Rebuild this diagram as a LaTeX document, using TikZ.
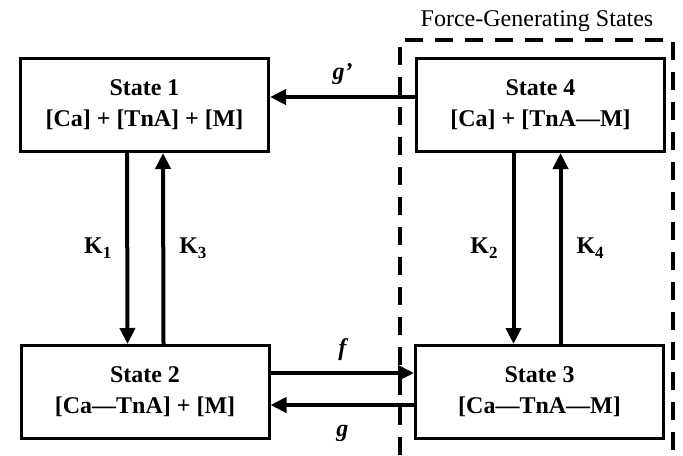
\documentclass[tikz,border=0pt]{standalone}
\usepackage{fontspec}
\setmainfont{Liberation Serif}
\usetikzlibrary{arrows.meta,positioning}
\newcommand\ksub[1]{K\raisebox{-.45ex}{\fontsize{8.5}{9}\selectfont#1}}

\begin{document}
\begin{tikzpicture}[x=.5pt,y=-.5pt,font=\fontsize{12}{15.5}\selectfont,
state/.style={draw,line width=1.5pt,align=center,minimum width=124pt,minimum height=46.5pt,font=\fontsize{12}{15.5}\selectfont\bfseries},
arr/.style={-{Triangle[length=8pt,width=7.5pt]},line width=2pt},
rate/.style={font=\fontsize{12}{15.5}\selectfont\bfseries,inner sep=0pt},
fgs/.style={dash pattern=on 9pt off 6pt,line width=1.75pt}]
\useasboundingbox (0,0) rectangle (683,455);

\node (title) at (537,21){Force-Generating States};
\draw[fgs] (400,455)--(400,40)--(673,40)--(673,455);

\node[state] (s1) at (144.5,105){State 1\\{}[Ca] + [TnA] + [M]};
\node[state] (s4) at (540.5,105){State 4\\{}[Ca] + [TnA—M]};
\node[state] (s2) at (145,392){State 2\\{}[Ca—TnA] + [M]};
\node[state] (s3) at (539.5,392){State 3\\{}[Ca—TnA—M]};

\draw[arr] ([yshift=4pt]s4.west)--node[rate,above=5pt]{\itshape g’}([yshift=4pt]s1.east);
\draw[arr] ([yshift=9.5pt]s2.east)--node[rate,above=5pt]{\itshape f}([yshift=9.5pt]s3.west);
\draw[arr] ([yshift=-6.5pt]s3.west)--node[rate,below=9pt]{\itshape g}([yshift=-6.5pt]s2.east);

\draw[arr] ([xshift=-8.75pt]s1.south)--node[rate,left=7pt]{\ksub1}([xshift=-8.75pt]s2.north);
\draw[arr] ([xshift=9.25pt]s2.north)--node[rate,right=7pt]{\ksub3}([xshift=9.25pt]s1.south);
\draw[arr] ([xshift=-13.5pt]s4.south)--node[rate,left=7pt]{\ksub2}([xshift=-13.5pt]s4.south|-s3.north);
\draw[arr] ([xshift=10pt]s4.south|-s3.north)--node[rate,right=7pt]{\ksub4}([xshift=10pt]s4.south);
\end{tikzpicture}
\end{document}
